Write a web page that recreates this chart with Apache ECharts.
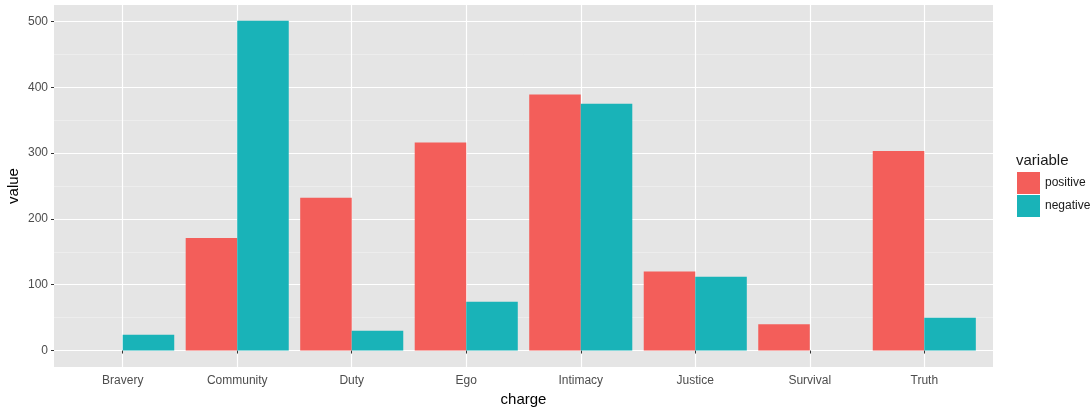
<!DOCTYPE html>
<html>
<head>
<meta charset="utf-8">
<script src="https://cdn.jsdelivr.net/npm/echarts@6/dist/echarts.min.js"></script>
<style>
  html, body { margin: 0; padding: 0; background: #ffffff; }
  #chart { width: 1092px; height: 407px; }
</style>
</head>
<body>
<div id="chart"></div>
<script>
// Charges and their positive / negative counts
const categories = ['Bravery', 'Community', 'Duty', 'Ego', 'Intimacy', 'Justice', 'Survival', 'Truth'];
const positiveValues = [0, 171, 232, 316, 389, 120, 40, 303];
const negativeValues = [24, 501, 30, 74, 375, 112, 0, 50];
const seriesNames = ['positive', 'negative'];

const FONT = '"Liberation Sans", Arial, Helvetica, sans-serif';
const RED = '#F35E5A';
const TEAL = '#19B3B8';

// panel spans 54..993 horizontally, 5..367 vertically;
// bars sit in an inner grid inset by 0.1 band on each side
const PANEL = { left: 54, right: 99, top: 5, bottom: 40 };
const INSET = 11.45;

const chart = echarts.init(document.getElementById('chart'), null, { renderer: 'canvas' });

chart.setOption({
  animation: false,
  backgroundColor: '#ffffff',
  title: {
    text: 'variable',
    left: 1011,
    top: 148,
    textStyle: { fontFamily: FONT, fontSize: 15, fontWeight: 'normal', color: '#1a1a1a' }
  },
  legend: {
    data: seriesNames,
    orient: 'vertical',
    left: 1012,
    top: 167,
    itemWidth: 23,
    itemHeight: 22,
    itemGap: 1,
    icon: 'rect',
    textStyle: { fontFamily: FONT, fontSize: 12, color: '#1a1a1a' }
  },
  grid: [
    {
      left: PANEL.left, right: PANEL.right, top: PANEL.top, bottom: PANEL.bottom,
      outerBoundsMode: 'none', containLabel: false,
      show: true, backgroundColor: '#E5E5E5', borderWidth: 0
    },
    {
      left: PANEL.left + INSET, right: PANEL.right + INSET, top: PANEL.top, bottom: PANEL.bottom,
      outerBoundsMode: 'none', containLabel: false
    }
  ],
  xAxis: [
    { type: 'value', gridIndex: 0, min: 0, max: 1, show: false },
    {
      type: 'category',
      gridIndex: 1,
      data: categories,
      name: 'charge',
      nameLocation: 'middle',
      nameGap: 21,
      nameTextStyle: { fontFamily: FONT, fontSize: 15, color: '#000000' },
      axisLine: { show: false },
      axisTick: { show: true, alignWithLabel: true, length: 3, lineStyle: { color: '#333333', width: 1 } },
      axisLabel: { fontFamily: FONT, fontSize: 12, color: '#4D4D4D', margin: 8 },
      splitLine: { show: true, alignWithLabel: true, lineStyle: { color: '#ffffff', width: 1.2 } }
    }
  ],
  yAxis: [
    {
      type: 'value',
      gridIndex: 0,
      min: -25,
      max: 525,
      splitNumber: 5,
      name: 'value',
      nameLocation: 'middle',
      nameGap: 33,
      nameMoveOverlap: false,
      nameRotate: 90,
      nameTextStyle: { fontFamily: FONT, fontSize: 15, color: '#000000' },
      axisLine: { show: false },
      axisTick: { show: true, length: 3, lineStyle: { color: '#333333', width: 1 } },
      axisLabel: { fontFamily: FONT, fontSize: 12, color: '#4D4D4D', margin: 6, showMinLabel: false, showMaxLabel: false },
      splitLine: { show: true, showMinLine: false, showMaxLine: false, lineStyle: { color: '#ffffff', width: 1.2 } }
    },
    {
      type: 'value',
      gridIndex: 1,
      min: -25,
      max: 525,
      show: false
    },
    {
      // minor grid lines half way between the major ones (offset by 50)
      type: 'value',
      gridIndex: 0,
      min: 25,
      max: 575,
      splitNumber: 5,
      axisLine: { show: false },
      axisTick: { show: false },
      axisLabel: { show: false },
      splitLine: { show: true, showMinLine: false, showMaxLine: false, lineStyle: { color: '#F2F2F2', width: 0.6 } }
    }
  ],
  series: [
    {
      name: seriesNames[0],
      type: 'bar',
      xAxisIndex: 1,
      yAxisIndex: 1,
      data: positiveValues,
      barWidth: '45%',
      barGap: '0%',
      itemStyle: { color: RED },
      z: 3
    },
    {
      name: seriesNames[1],
      type: 'bar',
      xAxisIndex: 1,
      yAxisIndex: 1,
      data: negativeValues,
      barWidth: '45%',
      barGap: '0%',
      itemStyle: { color: TEAL },
      z: 3
    }
  ]
});
</script>
</body>
</html>
